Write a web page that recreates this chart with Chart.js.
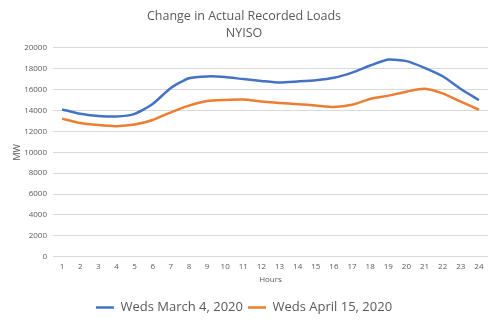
<!DOCTYPE html>
<html>
<head>
<meta charset="utf-8">
<script src="https://cdn.jsdelivr.net/npm/chart.js@4"></script>
<style>
  html, body { margin: 0; padding: 0; background: #fff; }
  #wrap { width: 498px; height: 324px; }
</style>
</head>
<body>
<div id="wrap"><canvas id="grafico"></canvas></div>
<script>
// datos
const horas = ['1','2','3','4','5','6','7','8','9','10','11','12','13','14','15','16','17','18','19','20','21','22','23','24'];
const cargaMarzo = [14100, 13680, 13480, 13420, 13680, 14620, 16150, 17080, 17260, 17200, 17000, 16830, 16680, 16780, 16900, 17130, 17620, 18300, 18870, 18720, 18080, 17270, 16060, 15000];
const cargaAbril = [13220, 12800, 12600, 12500, 12650, 13090, 13820, 14460, 14900, 15000, 15040, 14860, 14720, 14600, 14480, 14340, 14550, 15100, 15420, 15800, 16080, 15630, 14840, 14070];
const ticksY = [0, 2000, 4000, 6000, 8000, 10000, 12000, 14000, 16000, 18000, 20000];

const gris = '#595959';
const fuente = "'Open Sans', 'Noto Sans', sans-serif";

const ctx = document.getElementById('grafico').getContext('2d');
new Chart(ctx, {
    type: 'line',
    data: {
        labels: horas,
        datasets: [
            { label: 'Weds March 4, 2020', data: cargaMarzo, borderColor: '#4472C4', backgroundColor: '#4472C4', borderWidth: 2.5, pointRadius: 0, tension: 0.2 },
            { label: 'Weds April 15, 2020', data: cargaAbril, borderColor: '#ED7D31', backgroundColor: '#ED7D31', borderWidth: 2.5, pointRadius: 0, tension: 0.2 }
        ]
    },
    options: {
        responsive: true,
        maintainAspectRatio: false,
        animation: false,
        layout: { padding: { left: 0, right: 10, top: 6, bottom: 0 } },
        plugins: {
            title: {
                display: true,
                text: ['Change in Actual Recorded Loads', 'NYISO'],
                color: gris,
                font: { family: fuente, size: 12.5, weight: 'normal', lineHeight: 1.35 },
                padding: { top: 2, bottom: 6 }
            },
            legend: {
                position: 'bottom',
                labels: {
                    color: gris,
                    font: { family: fuente, size: 13 },
                    usePointStyle: true,
                    pointStyle: 'line',
                    pointStyleWidth: 18,
                    padding: 5
                }
            },
            tooltip: { enabled: false }
        },
        scales: {
            x: {
                offset: true,
                grid: { display: false },
                border: { display: false },
                ticks: { color: gris, font: { family: fuente, size: 8 }, maxRotation: 0, autoSkip: false, padding: -3 },
                title: { display: true, text: 'Hours', color: gris, font: { family: fuente, size: 8 }, padding: { top: 7, bottom: 11 } }
            },
            y: {
                min: 0,
                max: 20000,
                afterBuildTicks: axis => { axis.ticks = ticksY.map(v => ({ value: v })); },
                afterFit: axis => { axis.width = 53; },
                grid: { color: '#d9d9d9', drawTicks: false },
                border: { display: false },
                ticks: { color: gris, font: { family: fuente, size: 8 }, padding: 6, callback: v => String(v) },
                title: { display: true, text: 'MW', color: gris, font: { family: fuente, size: 9 }, padding: { top: 12, bottom: 0 } }
            }
        }
    }
});
</script>
</body>
</html>
